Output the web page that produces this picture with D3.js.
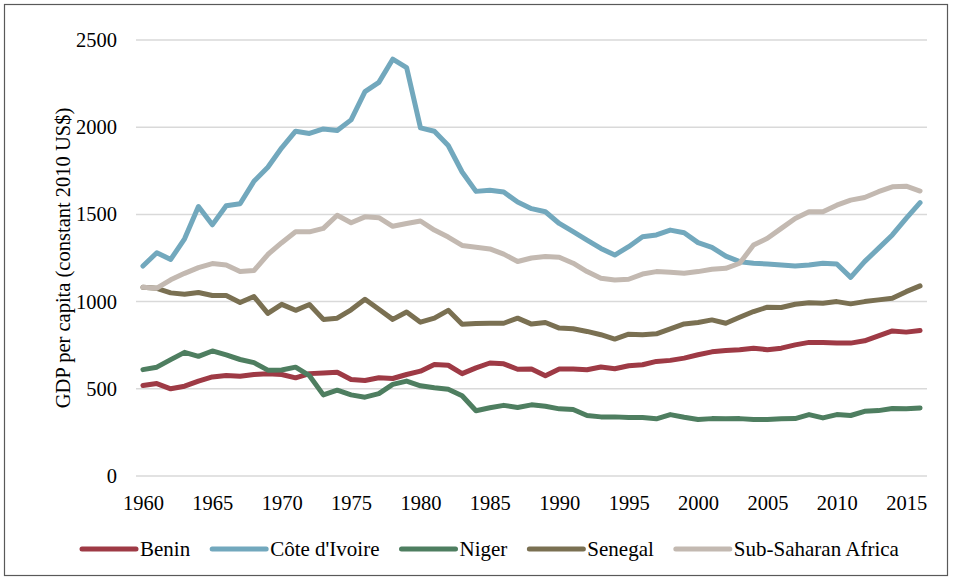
<!DOCTYPE html>
<html lang="en">
<head>
<meta charset="utf-8">
<title>GDP per capita</title>
<script src="https://cdn.jsdelivr.net/npm/d3@7"></script>
<style>
  body { margin: 0; background: #fff; }
  text { font-family: "Liberation Serif", "Times New Roman", serif; fill: #000; }
</style>
</head>
<body>
<svg width="960" height="579"></svg>
<script>
// years 1960..2016
var years = d3.range(1960, 2017);
var xTicks = [1960, 1965, 1970, 1975, 1980, 1985, 1990, 1995, 2000, 2005, 2010, 2015];
var yTicks = [0, 500, 1000, 1500, 2000, 2500];

var benin = [519, 530, 500, 515, 544, 568, 576, 572, 582, 586,
  582, 563, 587, 591, 595, 553, 548, 563, 559, 582,
  601, 639, 635, 587, 620, 648, 643, 612, 613, 575,
  613, 613, 609, 625, 615, 632, 638, 657, 663, 676,
  695, 712, 720, 724, 733, 724, 733, 752, 766, 766,
  762, 762, 775, 804, 832, 825, 834];

var coteIvoire = [1204, 1280, 1242, 1360, 1545, 1440, 1550, 1561, 1690, 1770,
  1882, 1977, 1964, 1990, 1981, 2042, 2204, 2257, 2390, 2342,
  1996, 1977, 1895, 1743, 1632, 1638, 1628, 1571, 1533, 1515,
  1448, 1401, 1353, 1305, 1267, 1315, 1372, 1382, 1410, 1395,
  1338, 1311, 1261, 1229, 1220, 1216, 1210, 1204, 1210, 1220,
  1216, 1139, 1229, 1305, 1382, 1477, 1567];

var niger = [610, 624, 667, 709, 686, 717, 694, 668, 650, 607,
  608, 624, 575, 465, 492, 465, 452, 472, 525, 544,
  517, 506, 497, 460, 374, 391, 405, 393, 408, 400,
  385, 381, 347, 339, 339, 335, 335, 328, 352, 337,
  324, 329, 328, 329, 324, 324, 328, 329, 352, 333,
  352, 347, 371, 375, 387, 385, 390];

var senegal = [1082, 1076, 1050, 1042, 1052, 1035, 1035, 995, 1029, 932,
  984, 950, 983, 898, 905, 953, 1013, 956, 898, 940,
  882, 905, 950, 870, 875, 876, 876, 905, 871, 880,
  848, 844, 829, 810, 785, 813, 810, 815, 844, 872,
  880, 895, 876, 910, 943, 968, 966, 985, 994, 990,
  1000, 987, 1000, 1010, 1019, 1057, 1090];

var ssa = [1082, 1077, 1125, 1162, 1195, 1218, 1210, 1172, 1178, 1270,
  1338, 1400, 1400, 1420, 1495, 1452, 1486, 1481, 1432, 1448,
  1462, 1410, 1370, 1322, 1312, 1302, 1272, 1230, 1250, 1258,
  1254, 1220, 1172, 1134, 1124, 1128, 1158, 1172, 1168, 1162,
  1172, 1185, 1191, 1220, 1324, 1363, 1420, 1477, 1515, 1515,
  1553, 1582, 1597, 1630, 1658, 1662, 1634];

var seriesNames = ["Benin", "Côte d'Ivoire", "Niger", "Senegal", "Sub-Saharan Africa"];
var seriesValues = [benin, coteIvoire, niger, senegal, ssa];
var colors = ["#9e3a45", "#72a8bd", "#4e7e60", "#7a7052", "#c3b9b1"];

var svg = d3.select("svg");

// outer frame
svg.append("rect")
  .attr("x", 4.5).attr("y", 4.5)
  .attr("width", 943).attr("height", 571)
  .attr("fill", "none")
  .attr("stroke", "#595959")
  .attr("stroke-width", 1.2);

var plot = {left: 136, right: 927, top: 40, bottom: 476};

var x = d3.scaleLinear()
  .domain([1959.5, 2016.5])
  .range([plot.left, plot.right]);

var y = d3.scaleLinear()
  .domain([0, 2500])
  .range([plot.bottom, plot.top]);

// gridlines
svg.append("g")
  .selectAll("line")
  .data(yTicks)
  .enter().append("line")
    .attr("x1", plot.left).attr("x2", plot.right)
    .attr("y1", function(d) { return y(d); })
    .attr("y2", function(d) { return y(d); })
    .attr("stroke", "#d9d9d9")
    .attr("stroke-width", 1.5);

// y axis labels
var yAxis = d3.axisLeft(y).tickValues(yTicks).tickFormat(d3.format("d")).tickSize(0).tickPadding(19);
var gy = svg.append("g")
  .attr("transform", "translate(" + plot.left + ",0)")
  .call(yAxis);
gy.select(".domain").remove();
gy.selectAll("text")
  .style("font-family", "'Liberation Serif', serif")
  .style("font-size", "20.5px")
  .attr("fill", "#000");

// x axis labels
var xAxis = d3.axisBottom(x).tickValues(xTicks).tickFormat(d3.format("d")).tickSize(0).tickPadding(19);
var gx = svg.append("g")
  .attr("transform", "translate(0," + plot.bottom + ")")
  .call(xAxis);
gx.select(".domain").remove();
gx.selectAll("text")
  .style("font-family", "'Liberation Serif', serif")
  .style("font-size", "20.5px")
  .attr("fill", "#000");

// y axis title
svg.append("text")
  .attr("transform", "translate(70," + ((plot.top + plot.bottom) / 2) + ") rotate(-90)")
  .attr("text-anchor", "middle")
  .style("font-size", "20.5px")
  .text("GDP per capita (constant 2010 US$)");

// lines
var line = d3.line()
  .x(function(d, i) { return x(years[i]); })
  .y(function(d) { return y(d); });

svg.append("g")
  .selectAll("path")
  .data(seriesValues)
  .enter().append("path")
    .attr("d", line)
    .attr("fill", "none")
    .attr("stroke", function(d, i) { return colors[i]; })
    .attr("stroke-width", 5)
    .attr("stroke-linejoin", "round")
    .attr("stroke-linecap", "round");

// legend
var legend = svg.append("g").attr("transform", "translate(0,549)");
var lx = 82;
seriesNames.forEach(function(name, i) {
  var item = legend.append("g").attr("transform", "translate(" + lx + ",0)");
  item.append("line")
    .attr("x1", 0).attr("x2", 54)
    .attr("y1", 0).attr("y2", 0)
    .attr("stroke", colors[i])
    .attr("stroke-width", 5)
    .attr("stroke-linecap", "round");
  var t = item.append("text")
    .attr("x", 58)
    .attr("y", 7)
    .style("font-size", "21px")
    .text(name);
  lx += 58 + t.node().getComputedTextLength() + 22;
});
</script>
</body>
</html>
